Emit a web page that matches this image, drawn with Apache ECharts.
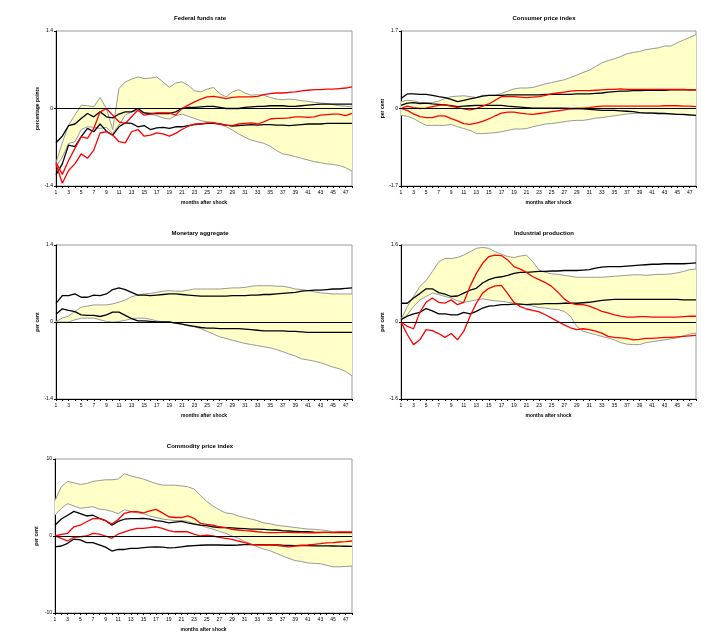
<!DOCTYPE html>
<html>
<head>
<meta charset="utf-8">
<script src="https://cdn.jsdelivr.net/npm/echarts@6/dist/echarts.min.js"></script>
<style>
html, body { margin: 0; padding: 0; background: #fff; }
#chart { width: 708px; height: 642px; }
</style>
</head>
<body>
<div id="chart"></div>
<script>
// months after shock
const months = Array.from({ length: 48 }, (_, i) => String(i + 1));

// Federal funds rate
const fedUp = [-0.98,-0.62,-0.3,-0.12,0.06,0.05,0.03,0.2,0.0,-0.38,0.36,0.48,0.53,0.57,0.54,0.55,0.57,0.48,0.38,0.46,0.48,0.42,0.32,0.3,0.35,0.38,0.27,0.21,0.3,0.34,0.28,0.24,0.25,0.24,0.2,0.17,0.16,0.17,0.16,0.14,0.13,0.11,0.1,0.09,0.07,0.05,0.04,0.03];
const fedLo = [-1.05,-0.88,-0.63,-0.6,-0.38,-0.33,-0.34,-0.36,-0.34,-0.45,-0.3,-0.12,-0.06,-0.04,-0.08,-0.1,-0.13,-0.17,-0.19,-0.13,-0.1,-0.14,-0.18,-0.22,-0.24,-0.25,-0.28,-0.33,-0.39,-0.46,-0.52,-0.57,-0.6,-0.63,-0.68,-0.76,-0.82,-0.84,-0.87,-0.9,-0.93,-0.96,-0.98,-1.0,-1.01,-1.03,-1.07,-1.13];
const fedB1 = [-0.62,-0.5,-0.31,-0.28,-0.18,-0.09,-0.15,-0.06,-0.15,-0.17,-0.1,-0.06,-0.06,0.0,-0.08,-0.09,-0.09,-0.09,-0.09,-0.06,0.0,0.02,0.02,0.03,0.04,0.04,0.02,0.0,0.0,0.0,0.02,0.03,0.04,0.04,0.05,0.05,0.05,0.04,0.04,0.05,0.06,0.07,0.08,0.08,0.08,0.08,0.08,0.08];
const fedB2 = [-1.2,-1.0,-0.66,-0.69,-0.51,-0.36,-0.42,-0.28,-0.41,-0.48,-0.33,-0.26,-0.27,-0.33,-0.31,-0.38,-0.35,-0.34,-0.36,-0.33,-0.33,-0.31,-0.29,-0.28,-0.27,-0.27,-0.28,-0.3,-0.32,-0.31,-0.3,-0.29,-0.3,-0.29,-0.29,-0.3,-0.3,-0.31,-0.3,-0.29,-0.28,-0.28,-0.28,-0.27,-0.27,-0.27,-0.27,-0.27];
const fedR1 = [-0.97,-1.19,-0.94,-0.72,-0.51,-0.54,-0.36,-0.06,0.0,-0.12,-0.24,-0.27,-0.15,-0.03,-0.12,-0.1,-0.08,-0.08,-0.08,-0.12,0.0,0.06,0.12,0.17,0.21,0.22,0.2,0.18,0.2,0.21,0.21,0.21,0.22,0.25,0.27,0.28,0.28,0.29,0.3,0.32,0.33,0.34,0.34,0.35,0.35,0.36,0.37,0.39];
const fedR2 = [-1.0,-1.35,-1.12,-1.0,-0.82,-0.9,-0.75,-0.44,-0.42,-0.48,-0.6,-0.62,-0.42,-0.38,-0.5,-0.48,-0.44,-0.46,-0.5,-0.45,-0.38,-0.32,-0.28,-0.28,-0.26,-0.26,-0.28,-0.3,-0.31,-0.28,-0.27,-0.26,-0.28,-0.24,-0.19,-0.18,-0.18,-0.17,-0.15,-0.15,-0.16,-0.15,-0.12,-0.11,-0.1,-0.1,-0.13,-0.09];

// Consumer price index
const cpiUp = [0.15,0.18,0.17,0.13,0.12,0.13,0.16,0.22,0.26,0.27,0.28,0.26,0.24,0.29,0.29,0.29,0.33,0.38,0.43,0.45,0.45,0.46,0.5,0.54,0.57,0.6,0.63,0.68,0.73,0.79,0.84,0.92,1.0,1.05,1.09,1.14,1.2,1.23,1.25,1.29,1.31,1.33,1.37,1.37,1.44,1.5,1.56,1.62];
const cpiLo = [-0.15,-0.17,-0.22,-0.3,-0.37,-0.37,-0.37,-0.37,-0.35,-0.4,-0.44,-0.48,-0.55,-0.55,-0.54,-0.53,-0.51,-0.48,-0.45,-0.45,-0.44,-0.4,-0.37,-0.34,-0.33,-0.31,-0.29,-0.27,-0.26,-0.26,-0.24,-0.21,-0.2,-0.18,-0.16,-0.14,-0.12,-0.11,-0.1,-0.09,-0.09,-0.1,-0.11,-0.12,-0.13,-0.14,-0.15,-0.15];
const cpiB1 = [0.22,0.32,0.32,0.31,0.31,0.29,0.26,0.24,0.2,0.15,0.18,0.21,0.24,0.27,0.29,0.29,0.29,0.3,0.3,0.3,0.3,0.3,0.3,0.31,0.31,0.31,0.31,0.31,0.32,0.32,0.32,0.33,0.34,0.36,0.37,0.38,0.38,0.39,0.39,0.4,0.4,0.4,0.4,0.41,0.41,0.41,0.41,0.41];
const cpiB2 = [0.07,0.12,0.13,0.11,0.12,0.1,0.09,0.08,0.06,0.04,0.05,0.06,0.07,0.07,0.07,0.07,0.07,0.05,0.04,0.03,0.02,0.01,0.01,0.01,0.01,0.01,0.01,0.0,0.0,-0.01,-0.02,-0.03,-0.04,-0.04,-0.04,-0.05,-0.06,-0.07,-0.09,-0.1,-0.1,-0.11,-0.11,-0.12,-0.13,-0.13,-0.14,-0.15];
const cpiR1 = [0.0,0.05,0.02,0.0,0.01,0.04,0.07,0.08,0.05,0.02,-0.01,-0.03,0.0,0.05,0.1,0.18,0.26,0.26,0.26,0.25,0.24,0.25,0.26,0.29,0.32,0.34,0.36,0.38,0.39,0.39,0.39,0.4,0.41,0.42,0.42,0.43,0.42,0.42,0.42,0.42,0.42,0.42,0.42,0.42,0.42,0.42,0.41,0.41];
const cpiR2 = [0.0,-0.04,-0.12,-0.18,-0.2,-0.2,-0.16,-0.16,-0.22,-0.27,-0.33,-0.35,-0.32,-0.28,-0.23,-0.16,-0.1,-0.08,-0.08,-0.1,-0.12,-0.13,-0.11,-0.09,-0.07,-0.05,-0.03,-0.01,0.0,0.01,0.02,0.04,0.05,0.05,0.05,0.05,0.05,0.05,0.05,0.05,0.05,0.05,0.06,0.06,0.06,0.05,0.05,0.04];

// Monetary aggregate
const monUp = [0.01,0.07,0.11,0.19,0.27,0.29,0.31,0.31,0.31,0.33,0.36,0.4,0.46,0.49,0.51,0.52,0.54,0.56,0.57,0.56,0.56,0.58,0.6,0.6,0.6,0.6,0.6,0.61,0.62,0.62,0.63,0.65,0.66,0.66,0.66,0.65,0.65,0.63,0.6,0.59,0.57,0.55,0.53,0.52,0.51,0.51,0.51,0.51];
const monLo = [0.0,0.0,0.0,0.04,0.07,0.07,0.07,0.04,0.01,0.0,0.01,0.03,0.06,0.07,0.07,0.05,0.02,0.0,0.0,-0.02,-0.04,-0.07,-0.09,-0.12,-0.17,-0.22,-0.27,-0.3,-0.33,-0.36,-0.39,-0.41,-0.43,-0.45,-0.47,-0.5,-0.54,-0.58,-0.62,-0.67,-0.69,-0.71,-0.74,-0.78,-0.82,-0.85,-0.9,-0.98];
const monB1 = [0.34,0.48,0.48,0.51,0.45,0.45,0.49,0.48,0.51,0.59,0.62,0.59,0.54,0.49,0.49,0.48,0.49,0.5,0.51,0.51,0.5,0.49,0.48,0.47,0.47,0.47,0.47,0.47,0.48,0.48,0.48,0.49,0.49,0.5,0.5,0.51,0.52,0.53,0.54,0.56,0.57,0.58,0.58,0.59,0.6,0.6,0.61,0.62];
const monB2 = [0.14,0.24,0.21,0.19,0.13,0.12,0.12,0.1,0.13,0.18,0.18,0.12,0.06,0.02,0.02,0.01,0.0,0.0,0.0,-0.02,-0.04,-0.06,-0.08,-0.1,-0.11,-0.11,-0.12,-0.12,-0.12,-0.12,-0.13,-0.14,-0.15,-0.16,-0.16,-0.16,-0.16,-0.17,-0.17,-0.18,-0.19,-0.19,-0.19,-0.19,-0.19,-0.19,-0.19,-0.19];

// Industrial production
const ipUp = [0.05,0.32,0.53,0.74,0.86,1.05,1.25,1.32,1.32,1.34,1.39,1.46,1.53,1.55,1.53,1.46,1.41,1.36,1.34,1.37,1.39,1.25,1.08,1.03,1.0,0.99,0.97,0.95,0.93,0.93,0.93,0.93,0.93,0.94,0.95,0.96,0.97,0.98,0.98,0.97,0.98,0.99,0.99,1.0,1.02,1.05,1.09,1.1];
const ipLo = [0.05,0.15,0.32,0.46,0.53,0.6,0.57,0.53,0.5,0.44,0.41,0.43,0.46,0.48,0.46,0.44,0.43,0.41,0.39,0.37,0.36,0.33,0.3,0.29,0.27,0.26,0.22,0.12,-0.09,-0.19,-0.23,-0.26,-0.3,-0.33,-0.37,-0.43,-0.46,-0.47,-0.47,-0.43,-0.41,-0.39,-0.37,-0.35,-0.33,-0.29,-0.25,-0.23];
const ipB1 = [0.39,0.39,0.5,0.59,0.69,0.69,0.61,0.58,0.53,0.54,0.6,0.66,0.7,0.81,0.88,0.92,0.94,0.97,1.01,1.03,1.03,1.04,1.05,1.05,1.06,1.06,1.07,1.07,1.07,1.08,1.09,1.12,1.14,1.15,1.15,1.15,1.16,1.17,1.18,1.19,1.2,1.2,1.21,1.21,1.21,1.21,1.22,1.23];
const ipB2 = [0.05,0.12,0.17,0.2,0.28,0.23,0.17,0.17,0.15,0.15,0.2,0.17,0.22,0.29,0.33,0.34,0.36,0.36,0.37,0.37,0.36,0.37,0.37,0.38,0.38,0.38,0.39,0.39,0.39,0.4,0.41,0.43,0.45,0.46,0.47,0.47,0.47,0.47,0.47,0.47,0.47,0.47,0.47,0.47,0.47,0.46,0.46,0.46];
const ipR1 = [0.0,-0.09,-0.14,0.2,0.41,0.5,0.41,0.39,0.46,0.36,0.41,0.74,1.01,1.22,1.36,1.39,1.38,1.29,1.15,1.1,1.03,0.94,0.88,0.82,0.74,0.62,0.48,0.39,0.36,0.36,0.33,0.28,0.22,0.19,0.15,0.12,0.1,0.1,0.11,0.11,0.1,0.1,0.1,0.1,0.1,0.11,0.12,0.12];
const ipR2 = [0.0,-0.26,-0.47,-0.37,-0.16,-0.18,-0.24,-0.32,-0.24,-0.37,-0.19,0.12,0.39,0.6,0.7,0.75,0.76,0.59,0.41,0.32,0.27,0.24,0.21,0.15,0.08,0.01,-0.06,-0.12,-0.16,-0.14,-0.16,-0.19,-0.23,-0.3,-0.32,-0.33,-0.34,-0.37,-0.36,-0.34,-0.34,-0.33,-0.32,-0.32,-0.31,-0.3,-0.29,-0.28];

// Commodity price index
const comUp = [4.6,6.4,7.1,6.9,6.7,6.8,7.1,7.2,7.3,7.3,7.4,8.1,7.8,7.6,7.4,7.1,6.8,6.6,6.6,6.6,6.5,6.4,6.1,5.3,4.5,3.9,3.4,3.0,2.9,2.6,2.4,2.2,2.0,1.7,1.6,1.4,1.3,1.2,1.1,1.0,0.9,0.87,0.8,0.7,0.55,0.5,0.47,0.45];
const comLo = [2.7,3.6,4.2,3.9,3.6,3.7,3.8,3.5,3.4,3.2,2.9,3.4,3.2,3.0,2.9,2.6,2.4,2.2,2.1,2.0,2.0,1.9,1.6,1.4,1.1,0.9,0.6,0.35,0.0,-0.3,-0.7,-1.0,-1.4,-1.7,-1.9,-2.25,-2.6,-2.9,-3.2,-3.3,-3.5,-3.55,-3.6,-3.8,-4.0,-4.0,-3.95,-3.9];
const comB1 = [1.4,2.2,2.7,3.2,2.9,2.6,2.7,2.3,2.0,1.4,1.9,2.2,2.25,2.25,2.3,2.2,2.0,1.9,1.7,1.8,1.9,1.7,1.55,1.4,1.35,1.2,1.1,1.1,1.05,1.0,0.95,0.9,0.9,0.85,0.8,0.78,0.7,0.65,0.6,0.55,0.55,0.5,0.48,0.48,0.45,0.45,0.45,0.45];
const comB2 = [-1.4,-1.3,-0.95,-0.4,-0.5,-0.85,-0.85,-1.15,-1.45,-1.95,-1.75,-1.75,-1.6,-1.6,-1.5,-1.45,-1.43,-1.45,-1.55,-1.5,-1.4,-1.3,-1.25,-1.2,-1.17,-1.17,-1.17,-1.2,-1.2,-1.17,-1.12,-1.12,-1.12,-1.12,-1.15,-1.17,-1.2,-1.22,-1.24,-1.25,-1.26,-1.27,-1.28,-1.29,-1.3,-1.32,-1.33,-1.35];
const comR1 = [0.0,0.2,0.35,1.2,1.4,1.85,2.25,2.3,2.0,1.55,2.15,2.95,3.15,3.15,3.0,3.25,3.45,3.0,2.5,2.4,2.4,2.6,2.3,1.65,1.5,1.4,1.2,1.1,0.85,0.78,0.7,0.65,0.55,0.48,0.43,0.43,0.48,0.48,0.43,0.43,0.4,0.4,0.45,0.48,0.48,0.52,0.52,0.52];
const comR2 = [0.0,-0.3,-0.65,-0.17,-0.1,0.0,0.35,0.25,0.0,-0.3,0.25,0.55,0.78,1.0,1.0,1.1,1.2,1.0,0.7,0.55,0.55,0.55,0.25,0.0,0.1,0.0,-0.17,-0.3,-0.43,-0.65,-0.85,-1.08,-1.17,-1.17,-1.17,-1.2,-1.3,-1.4,-1.3,-1.2,-1.17,-1.08,-1.0,-0.9,-0.87,-0.78,-0.72,-0.65];

const panels = [
	{ title: 'Federal funds rate', yName: 'percentage points', lim: 1.4, up: fedUp, lo: fedLo, black: [fedB1, fedB2], red: [fedR1, fedR2],
	  grid: { left: 56, top: 31, width: 296, height: 155 }, tx: 195, ty: 10 },
	{ title: 'Consumer price index', yName: 'per cent', lim: 1.7, up: cpiUp, lo: cpiLo, black: [cpiB1, cpiB2], red: [cpiR1, cpiR2],
	  grid: { left: 401, top: 31, width: 295, height: 155 }, tx: 539, ty: 10 },
	{ title: 'Monetary aggregate', yName: 'per cent', lim: 1.4, up: monUp, lo: monLo, black: [monB1, monB2], red: [],
	  grid: { left: 56, top: 245, width: 296, height: 154 }, tx: 195, ty: 225 },
	{ title: 'Industrial production', yName: 'per cent', lim: 1.6, up: ipUp, lo: ipLo, black: [ipB1, ipB2], red: [ipR1, ipR2],
	  grid: { left: 401, top: 245, width: 295, height: 154 }, tx: 539, ty: 225 },
	{ title: 'Commodity price index', yName: 'per cent', lim: 10, up: comUp, lo: comLo, black: [comB1, comB2], red: [comR1, comR2],
	  grid: { left: 55, top: 459, width: 297, height: 154 }, tx: 195, ty: 438 }
];

const font = 'Liberation Sans, Arial, sans-serif';
let myEcharts = echarts.init(document.getElementById('chart'));

let titles = [], grids = [], xAxes = [], yAxes = [], series = [];
panels.forEach((p, k) => {
	titles.push({
		text: p.title, left: p.tx, top: p.ty, textAlign: 'center',
		textStyle: { fontSize: 6, fontWeight: 'bold', color: '#000', fontFamily: font }
	});
	grids.push(Object.assign({ show: true, borderColor: '#9a9a9a', borderWidth: 1, backgroundColor: 'transparent' }, p.grid));
	xAxes.push({
		gridIndex: k, type: 'category', data: months, boundaryGap: false,
		name: 'months after shock', nameLocation: 'middle', nameGap: 14,
		nameTextStyle: { fontSize: 5, fontWeight: 'bold', color: '#000', fontFamily: font },
		axisLine: { onZero: false, lineStyle: { color: '#000', width: 1 } },
		axisTick: { interval: 0, length: 2, lineStyle: { color: '#000' } },
		axisLabel: { interval: 1, fontSize: 5, color: '#000', margin: 4, fontFamily: font },
		splitLine: { show: false }
	});
	yAxes.push({
		gridIndex: k, type: 'value', min: -p.lim, max: p.lim, interval: p.lim,
		name: p.yName, nameLocation: 'middle', nameGap: 16,
		nameTextStyle: { fontSize: 5, fontWeight: 'bold', color: '#000', fontFamily: font },
		axisLine: { show: true, onZero: false, lineStyle: { color: '#000', width: 1 } },
		axisTick: { show: true, length: 2, lineStyle: { color: '#000' } },
		axisLabel: { fontSize: 5, color: '#000', margin: 3, fontFamily: font },
		splitLine: { show: false }
	});
	const diff = p.up.map((v, i) => +(v - p.lo[i]).toFixed(3));
	// confidence band: lower edge + stacked width
	series.push({
		type: 'line', xAxisIndex: k, yAxisIndex: k, data: p.lo, stack: 'band' + k, stackStrategy: 'all',
		symbol: 'none', silent: true, lineStyle: { color: '#999', width: 1 }
	});
	series.push({
		type: 'line', xAxisIndex: k, yAxisIndex: k, data: diff, stack: 'band' + k, stackStrategy: 'all',
		symbol: 'none', silent: true, lineStyle: { color: '#999', width: 1 },
		areaStyle: { color: '#ffffc8', opacity: 1 }
	});
	p.black.forEach((d, j) => {
		series.push({
			type: 'line', xAxisIndex: k, yAxisIndex: k, data: d, symbol: 'none', silent: true,
			lineStyle: { color: '#000', width: 1.3 },
			markLine: j === 0 ? {
				silent: true, symbol: 'none', label: { show: false },
				lineStyle: { color: '#000', width: 1, type: 'solid' },
				data: [{ yAxis: 0 }]
			} : undefined
		});
	});
	p.red.forEach(d => {
		series.push({
			type: 'line', xAxisIndex: k, yAxisIndex: k, data: d, symbol: 'none', silent: true,
			lineStyle: { color: '#ff0000', width: 1.3 }
		});
	});
});

let option = {
	animation: false,
	backgroundColor: '#fff',
	title: titles,
	grid: grids,
	xAxis: xAxes,
	yAxis: yAxes,
	series: series
};
myEcharts.setOption(option);
</script>
</body>
</html>
